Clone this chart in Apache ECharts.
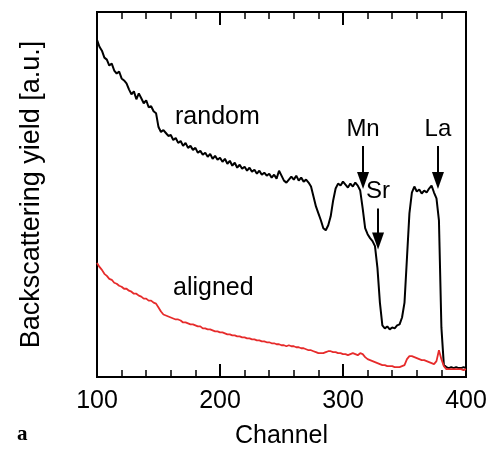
<!DOCTYPE html>
<html><head><meta charset="utf-8">
<script src="https://cdn.jsdelivr.net/npm/echarts@6/dist/echarts.min.js"></script>
<style>html,body{margin:0;padding:0;background:#fff}#c{width:491px;height:454px}</style>
</head><body><div id="c"></div>
<script>
const channels = [100,102,104,106,108,110,112,114,116,118,120,122,124,126,128,130,132,134,136,138,140,142,144,146,148,150,152,154,156,158,160,162,164,166,168,170,172,174,176,178,180,182,184,186,188,190,192,194,196,198,200,202,204,206,208,210,212,214,216,218,220,222,224,226,228,230,232,234,236,238,240,242,244,246,248,250,252,254,256,258,260,262,264,266,268,270,272,274,276,278,280,282,284,286,288,290,292,294,296,298,300,302,304,306,308,310,312,314,316,318,320,322,324,326,328,330,332,334,336,338,340,342,344,346,348,350,352,354,356,358,360,362,364,366,368,370,372,374,376,378,380,382,384,386,388,390,392,394,396,398,400];
const randomYield = [340,333,329,322,320,314,316,309,306,308,301,299,296,290,285,288,280,286,281,276,279,272,273,268,266,252,247,249,246,243,244,239,241,236,238,233,236,231,233,229,231,226,228,224,226,222,225,220,223,219,221,217,220,215,218,213,216,211,214,210,212,208,211,207,209,205,208,204,206,203,205,201,204,200,208,203,198,196,199,202,199,203,198,201,197,199,196,192,182,172,165,158,150,148,153,162,178,190,195,193,197,194,191,195,192,196,193,188,170,150,144,140,137,132,110,75,52,49,51,48,50,49,52,53,60,75,120,165,186,192,187,189,185,188,186,190,193,186,180,158,50,12,10,9,10,9,10,9,9,10,9];
const alignedYield = [115,111,108,104,102,99,98,95,94,92,91,89,89,87,86,84,84,82,81,79,79,77,77,75,74,70,66,63,62,61,60,59,58,58,57,55,55,54,53,53,52,51,51,49,49,48,48,47,46,46,45,45,44,43,43,42,42,41,41,40,40,39,39,38,38,37,37,36,36,35,35,34,34,33,33,32,32,31,32,31,31,30,30,29,29,28,27,27,26,25,24,24,24,25,26,26,25,25,24,24,23,23,22,23,24,23,22,24,23,20,18,17,16,15,14,13,12,12,11,11,11,10,10,10,11,12,18,21,21,20,19,18,17,17,16,15,14,13,16,27,18,11,8,8,8,8,8,8,8,7,8];
const elementNames = ['Mn','Sr','La'];
const elementChannels = [316.3, 328.5, 377.2];
const arrowTop = [233, 170, 233];
const arrowTip = [198, 137, 198];

const font = '"Liberation Sans", Arial, Helvetica, sans-serif';
const chart = echarts.init(document.getElementById('c'));
const tickCommon = {
  axisLine:{show:false},
  axisTick:{inside:true,length:13,lineStyle:{color:'#000',width:2}},
  minorTick:{show:true,splitNumber:5,length:7,lineStyle:{color:'#000',width:1.5}},
  splitLine:{show:false}, minorSplitLine:{show:false}
};
const arrowData = elementNames.map((n,i)=>[
  {coord:[elementChannels[i],arrowTop[i]], name:n},
  {coord:[elementChannels[i],arrowTip[i]]}
]);
chart.setOption({
  animation:false,
  grid:{left:97,right:25,top:12,bottom:74,show:true,borderColor:'#000',borderWidth:2,backgroundColor:'transparent'},
  xAxis:[
    Object.assign({type:'value',min:100,max:400,interval:100,position:'bottom',
      axisLabel:{fontSize:25,color:'#000',margin:12,fontFamily:font},
      name:'Channel',nameLocation:'middle',nameGap:47,
      nameTextStyle:{fontSize:25,color:'#000',fontFamily:font}}, tickCommon),
    Object.assign({type:'value',min:100,max:400,interval:100,position:'top',
      axisLabel:{show:false}}, tickCommon)
  ],
  yAxis:[{type:'value',min:0,max:368,axisLine:{show:false},axisTick:{show:false},
    axisLabel:{show:false},splitLine:{show:false},
    name:'Backscattering yield [a.u.]',nameLocation:'middle',nameGap:52,nameRotate:90,
    nameTextStyle:{fontSize:27,color:'#000',fontFamily:font}}],
  series:[
    {type:'line',xAxisIndex:0,data:channels.map((c,i)=>[c,randomYield[i]]),showSymbol:false,
     lineStyle:{color:'#000',width:2},z:2,
     markLine:{silent:true,symbol:['none','triangle'],symbolSize:[12,17],
       lineStyle:{color:'#000',width:2,type:'solid'},
       label:{show:true,position:'start',formatter:'{b}',fontSize:24,color:'#000',fontFamily:font,distance:5},
       data:arrowData}},
    {type:'line',xAxisIndex:0,data:channels.map((c,i)=>[c,alignedYield[i]]),showSymbol:false,
     lineStyle:{color:'#e62b2b',width:1.8},z:3}
  ],
  graphic:[
    {type:'text',left:175,top:105,style:{text:'random',font:'25px '+font,fill:'#000'}},
    {type:'text',left:173,top:276,style:{text:'aligned',font:'25px '+font,fill:'#000'}},
    {type:'text',left:17,top:424,style:{text:'a',font:'bold 21px "Liberation Serif", "Times New Roman", serif',fill:'#000'}}
  ]
});
</script></body></html>
